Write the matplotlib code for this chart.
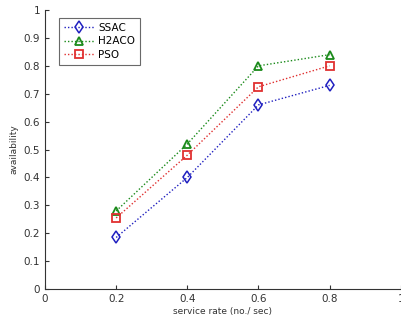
import matplotlib
matplotlib.use("Agg")
import matplotlib.pyplot as plt

x = [0.2, 0.4, 0.6, 0.8]
ssac = [0.185, 0.40, 0.66, 0.73]
h2aco = [0.28, 0.52, 0.80, 0.84]
pso = [0.255, 0.48, 0.725, 0.80]
xticks = [0, 0.2, 0.4, 0.6, 0.8, 1]
yticks = [0, 0.1, 0.2, 0.3, 0.4, 0.5, 0.6, 0.7, 0.8, 0.9, 1]

fig = plt.figure(figsize=(4.02, 3.23), dpi=100)
ax = fig.add_axes([0.112, 0.105, 0.885, 0.864])

ax.plot(x, ssac, linestyle=(0, (1, 1.5)), color='#2020c0', marker='d', mfc='none', mec='#2020c0', ms=6, mew=1.1, lw=1.0, label='SSAC')
ax.plot(x, h2aco, linestyle=(0, (1, 1.5)), color='#1a8a1a', marker='^', mfc='none', mec='#1a8a1a', ms=6, mew=1.3, lw=1.0, label='H2ACO')
ax.plot(x, pso, linestyle=(0, (1, 1.5)), color='#e03030', marker='s', mfc='none', mec='#e03030', ms=6, mew=1.3, lw=1.0, label='PSO')

ax.set_xlim(0, 1)
ax.set_ylim(0, 1)
ax.set_xticks(xticks)
ax.set_xticklabels(['0', '0.2', '0.4', '0.6', '0.8', '1'])
ax.set_yticks(yticks)
ax.set_yticklabels(['0', '0.1', '0.2', '0.3', '0.4', '0.5', '0.6', '0.7', '0.8', '0.9', '1'])
ax.tick_params(direction='in', labelsize=7.5, length=3, colors='#333333', labelcolor='#333333')
ax.spines['top'].set_visible(False)
ax.spines['right'].set_visible(False)
for s in ['left', 'bottom']:
    ax.spines[s].set_color('#333333')
    ax.spines[s].set_linewidth(0.8)
ax.set_xlabel('service rate (no./ sec)', fontsize=6.5, color='#333333', labelpad=2)
ax.set_ylabel('availability', fontsize=6.5, color='#333333', labelpad=4)

leg = ax.legend(loc='upper left', fontsize=7.5, frameon=True, fancybox=False, edgecolor='#444444',
                borderpad=0.45, handlelength=3.0, labelspacing=0.35, handletextpad=0.3,
                bbox_to_anchor=(0.025, 0.99))
leg.get_frame().set_linewidth(0.8)

fig.savefig('out.png', dpi=100)
